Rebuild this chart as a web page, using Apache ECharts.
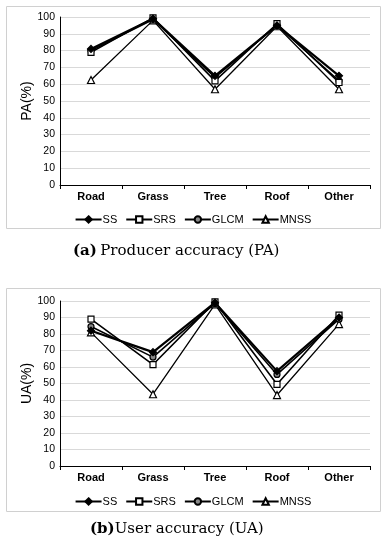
<!DOCTYPE html>
<html><head><meta charset="utf-8">
<script src="https://cdn.jsdelivr.net/npm/echarts@6/dist/echarts.min.js"></script>
<style>html,body{margin:0;padding:0;background:#fff}#c{width:386px;height:550px}</style>
</head><body><div id="c"></div>
<script>
const categories = ['Road', 'Grass', 'Tree', 'Roof', 'Other'];
const seriesNames = ['SS', 'SRS', 'GLCM', 'MNSS'];
const paSS   = [81, 99, 65, 95, 65];
const paSRS  = [79, 99.5, 62, 96, 61];
const paGLCM = [80, 98.5, 64, 95, 62];
const paMNSS = [62.5, 98, 57, 94.5, 57];
const uaSS   = [82, 69, 99, 57.5, 90];
const uaSRS  = [89, 61.5, 99.5, 49.5, 91.5];
const uaGLCM = [84.5, 66, 98.5, 55.5, 89];
const uaMNSS = [81, 43.5, 98, 43, 86];
const yTicks = [0, 10, 20, 30, 40, 50, 60, 70, 80, 90, 100];

const font = 'Liberation Sans, Arial, sans-serif';
const styles = {
  SS:   {symbol: 'diamond', size: 7, fill: '#000', lw: 2.2},
  SRS:  {symbol: 'rect', size: 6, fill: '#fff', lw: 1.6},
  GLCM: {symbol: 'circle', size: 6, fill: '#888', lw: 1.6},
  MNSS: {symbol: 'triangle', size: 7, fill: '#fff', lw: 1.3}
};
function mkSeries(name, data, idx) {
  const s = styles[name];
  return {
    name, type: 'line', data, xAxisIndex: idx, yAxisIndex: idx,
    symbol: s.symbol, symbolSize: s.size, showAllSymbol: true,
    lineStyle: {color: '#000', width: s.lw},
    itemStyle: {color: s.fill, borderColor: '#000', borderWidth: 1.2},
    emphasis: {disabled: true}, animation: false, z: 3
  };
}
function mkX(idx) {
  return {
    type: 'category', data: categories, gridIndex: idx, boundaryGap: true,
    axisLine: {lineStyle: {color: '#000', width: 1}},
    axisTick: {show: true, length: 4, lineStyle: {color: '#000'}},
    axisLabel: {color: '#000', fontFamily: font, fontWeight: 'bold', fontSize: 11, margin: 6}
  };
}
function mkY(idx, name) {
  return {
    type: 'value', gridIndex: idx, min: 0, max: 100, interval: 10,
    name, nameLocation: 'middle', nameGap: 26, nameMoveOverlap: false,
    nameTextStyle: {color: '#000', fontFamily: font, fontSize: 14},
    axisLine: {show: true, lineStyle: {color: '#000', width: 1}},
    axisTick: {show: false},
    splitLine: {lineStyle: {color: '#d9d9d9', width: 1}},
    axisLabel: {color: '#000', fontFamily: font, fontSize: 10.5, margin: 5,
      formatter: v => yTicks.includes(v) ? String(v) : ''}
  };
}
const chart = echarts.init(document.getElementById('c'), null, {renderer: 'canvas'});
const legendBase = {
  data: seriesNames, itemWidth: 26, itemHeight: 8, itemGap: 8,
  textStyle: {fontFamily: font, fontSize: 11, color: '#000', padding: [0,0,0,-4]},
  selectedMode: false
};
chart.setOption({
  animation: false,
  grid: [
    {left: 60, right: 16, top: 17, height: 168},
    {left: 60, right: 16, top: 301, height: 165}
  ],
  xAxis: [mkX(0), mkX(1)],
  yAxis: [mkY(0, 'PA(%)'), mkY(1, 'UA(%)')],
  legend: [
    Object.assign({top: 209, left: 'center'}, legendBase),
    Object.assign({top: 491, left: 'center'}, legendBase)
  ],
  graphic: [
    {type: 'rect', shape: {x: 6.5, y: 6.5, width: 374, height: 222}, style: {fill: 'none', stroke: '#d0d0d0', lineWidth: 1}, silent: true, z: -1},
    {type: 'rect', shape: {x: 6.5, y: 288.5, width: 374, height: 223}, style: {fill: 'none', stroke: '#d0d0d0', lineWidth: 1}, silent: true, z: -1},
    {type: 'text', left: 73, top: 244, style: {
      rich: {b: {fontFamily: 'DejaVu Serif', fontWeight: 'bold', fontSize: 15, fill: '#000'},
             n: {fontFamily: 'DejaVu Serif', fontSize: 15, fill: '#000'}},
      text: '{b|(a)} {n|Producer accuracy (PA)}'}},
    {type: 'text', left: 90, top: 522, style: {
      rich: {b: {fontFamily: 'DejaVu Serif', fontWeight: 'bold', fontSize: 15, fill: '#000'},
             n: {fontFamily: 'DejaVu Serif', fontSize: 15, fill: '#000'}},
      text: '{b|(b)}{n|User accuracy (UA)}'}}
  ],
  series: [
    mkSeries('MNSS', paMNSS, 0), mkSeries('GLCM', paGLCM, 0), mkSeries('SRS', paSRS, 0), mkSeries('SS', paSS, 0),
    mkSeries('MNSS', uaMNSS, 1), mkSeries('GLCM', uaGLCM, 1), mkSeries('SRS', uaSRS, 1), mkSeries('SS', uaSS, 1)
  ]
});
</script></body></html>
